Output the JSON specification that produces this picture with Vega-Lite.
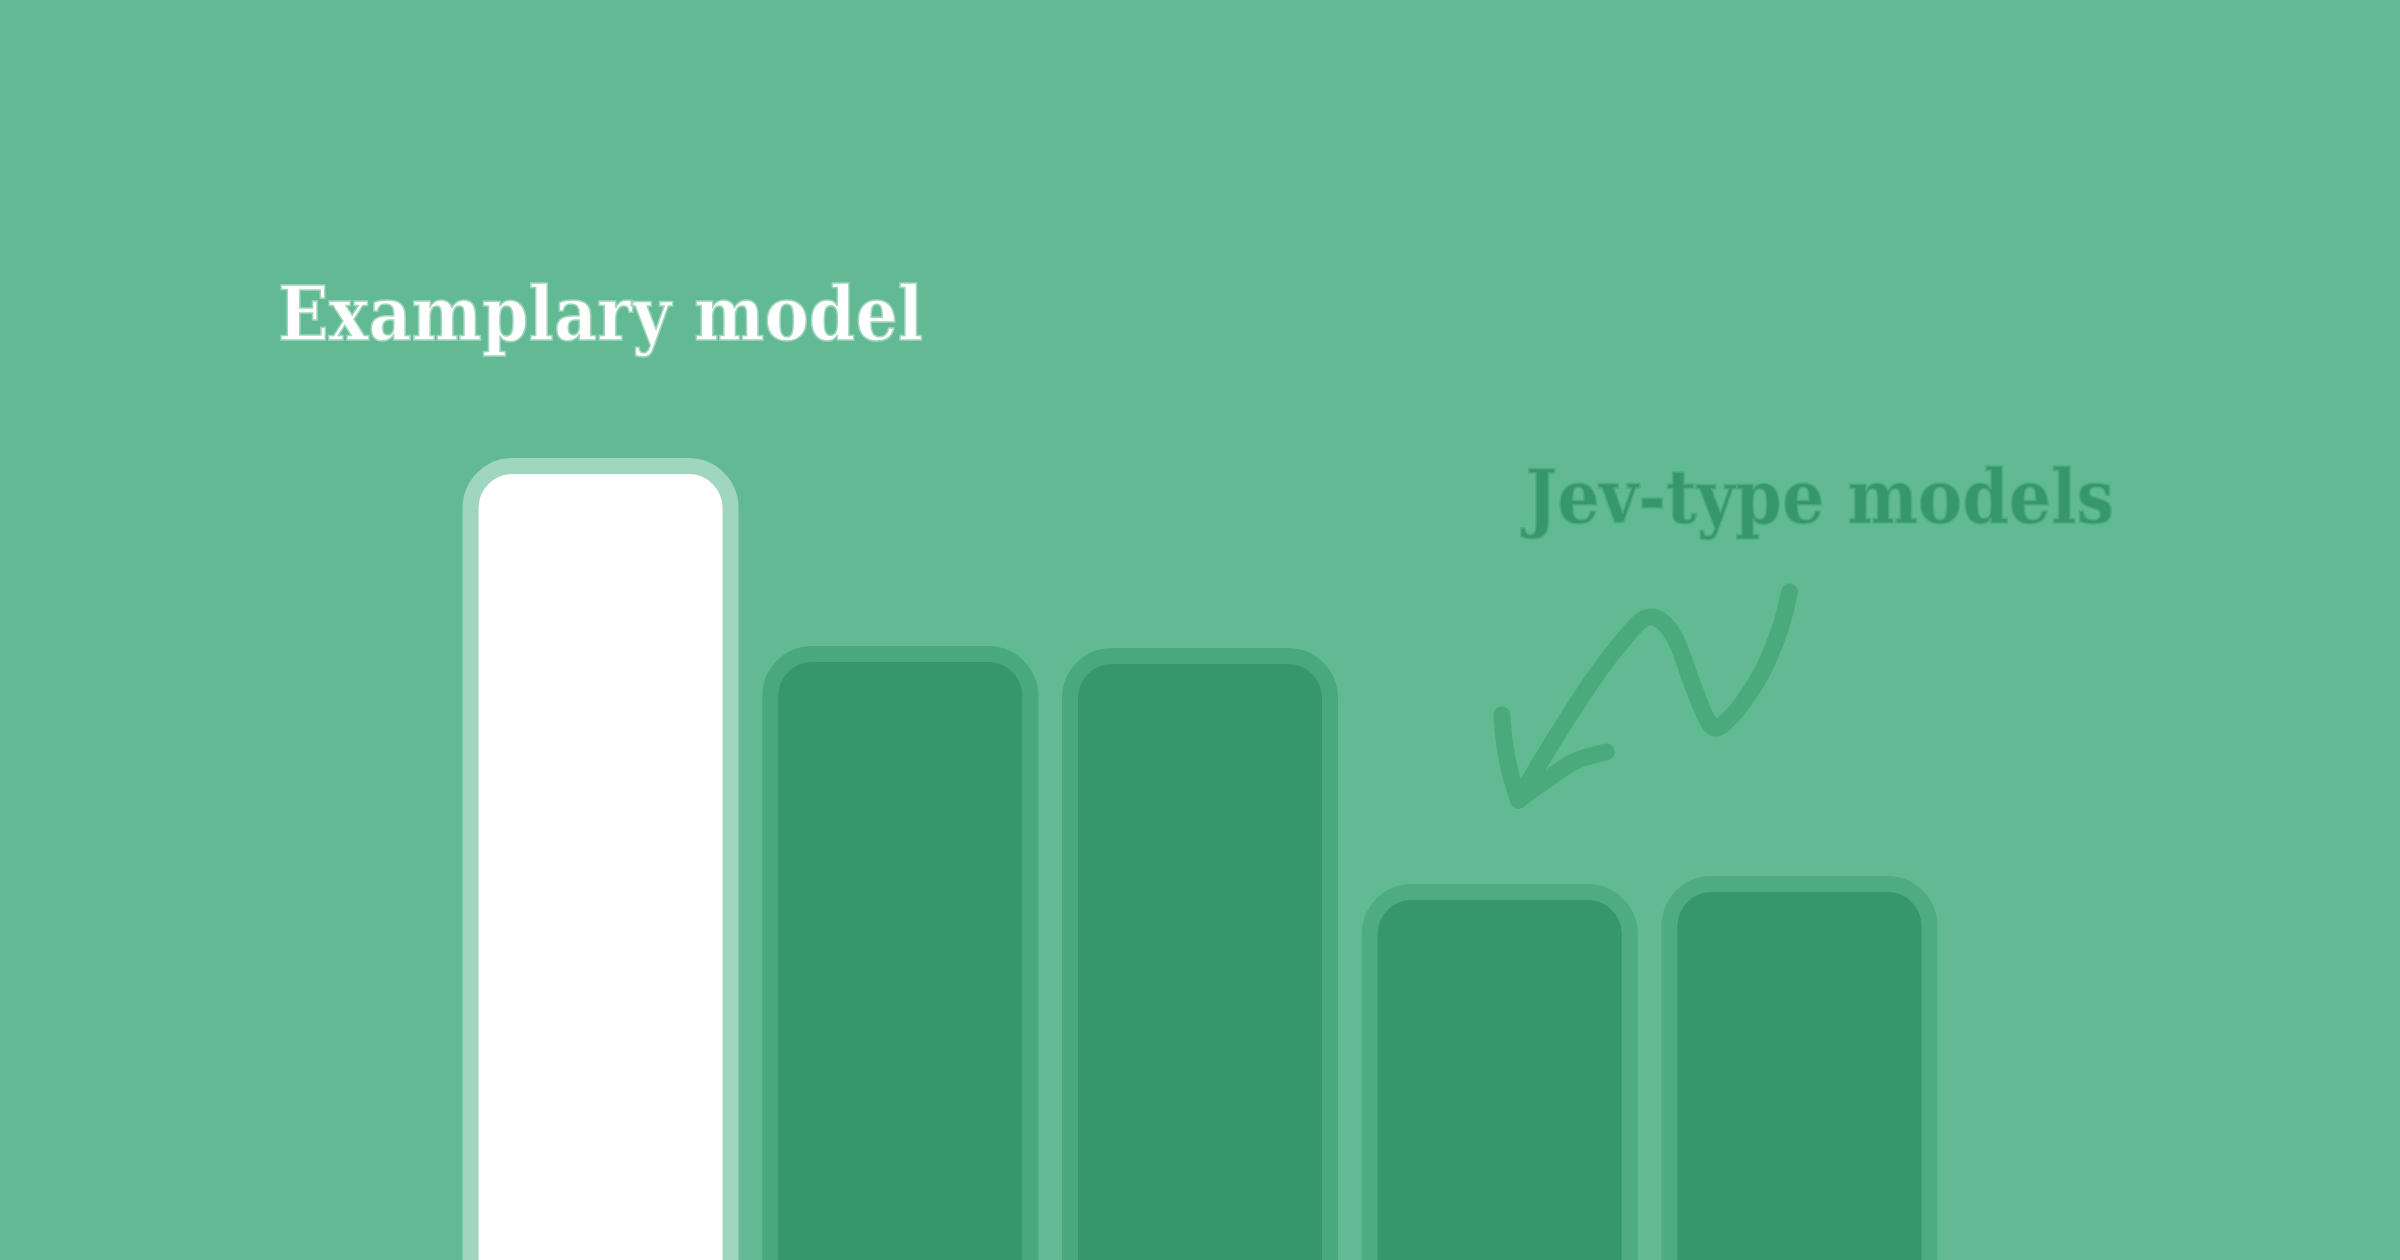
{
  "$schema": "https://vega.github.io/schema/vega-lite/v6.json",
  "width": 2400,
  "height": 1260,
  "autosize": {"type": "fit", "contains": "padding"},
  "padding": 0,
  "background": "#61ba91",
  "config": {"view": {"stroke": null}},
  "datasets": {
    "bars": [
      {"pos": 1, "model": "Examplary", "group": "exemplary", "score": 794},
      {"pos": 2, "model": "Model B", "group": "other", "score": 606},
      {"pos": 3, "model": "Model C", "group": "other", "score": 604},
      {"pos": 4, "model": "Jev 1", "group": "jev", "score": 368},
      {"pos": 5, "model": "Jev 2", "group": "jev", "score": 376}
    ],
    "labels": [
      {"label": "Examplary model", "pos": 1, "score": 920, "group": "exemplary"},
      {"label": "Jev-type models", "pos": 5.068, "score": 737, "group": "jev"}
    ],
    "arrow": [
      {"part": "main", "i": 1, "pos": 4.967, "score": 668},
      {"part": "main", "i": 2, "pos": 4.937, "score": 633},
      {"part": "main", "i": 3, "pos": 4.884, "score": 593},
      {"part": "main", "i": 4, "pos": 4.817, "score": 560},
      {"part": "main", "i": 5, "pos": 4.761, "score": 540},
      {"part": "main", "i": 6, "pos": 4.718, "score": 532},
      {"part": "main", "i": 7, "pos": 4.684, "score": 545},
      {"part": "main", "i": 8, "pos": 4.638, "score": 580},
      {"part": "main", "i": 9, "pos": 4.588, "score": 620},
      {"part": "main", "i": 10, "pos": 4.535, "score": 640},
      {"part": "main", "i": 11, "pos": 4.480, "score": 641},
      {"part": "main", "i": 12, "pos": 4.412, "score": 620},
      {"part": "main", "i": 13, "pos": 4.329, "score": 588},
      {"part": "main", "i": 14, "pos": 4.229, "score": 543},
      {"part": "main", "i": 15, "pos": 4.140, "score": 500},
      {"part": "main", "i": 16, "pos": 4.063, "score": 460},
      {"part": "barbL", "i": 1, "pos": 4.063, "score": 460},
      {"part": "barbL", "i": 2, "pos": 4.037, "score": 485},
      {"part": "barbL", "i": 3, "pos": 4.017, "score": 515},
      {"part": "barbL", "i": 4, "pos": 4.007, "score": 545},
      {"part": "barbR", "i": 1, "pos": 4.063, "score": 460},
      {"part": "barbR", "i": 2, "pos": 4.146, "score": 478},
      {"part": "barbR", "i": 3, "pos": 4.246, "score": 498},
      {"part": "barbR", "i": 4, "pos": 4.355, "score": 508}
    ]
  },
  "layer": [
    {
      "data": {"name": "bars"},
      "mark": {"type": "bar", "width": 260, "cornerRadiusTopLeft": 42, "cornerRadiusTopRight": 42, "strokeWidth": 16, "clip": true},
      "encoding": {
        "x": {"field": "pos", "type": "quantitative", "scale": {"domain": [-0.987, 6.987], "nice": false, "zero": false}, "axis": null},
        "y": {"field": "score", "type": "quantitative", "scale": {"domain": [0, 1260], "nice": false}, "axis": null},
        "y2": {"datum": -60},
        "fill": {"field": "group", "type": "nominal", "scale": {"domain": ["exemplary", "other", "jev"], "range": ["#ffffff", "#35976a", "#35976a"]}, "legend": null},
        "stroke": {"field": "group", "type": "nominal", "scale": {"domain": ["exemplary", "other", "jev"], "range": ["#a0d6bf", "#4aa97c", "#4fac80"]}, "legend": null}
      }
    },
    {
      "data": {"name": "arrow"},
      "mark": {"type": "line", "interpolate": "cardinal", "strokeWidth": 17, "strokeCap": "round", "strokeJoin": "round", "color": "#4baa7c"},
      "encoding": {
        "x": {"field": "pos", "type": "quantitative"},
        "y": {"field": "score", "type": "quantitative"},
        "detail": {"field": "part"},
        "order": {"field": "i", "type": "quantitative"}
      }
    },
    {
      "data": {"name": "labels"},
      "mark": {"type": "text", "font": "DejaVu Serif Condensed", "fontWeight": "bold", "fontSize": 74, "align": "center", "baseline": "alphabetic", "strokeWidth": 1.5},
      "encoding": {
        "x": {"field": "pos", "type": "quantitative"},
        "y": {"field": "score", "type": "quantitative"},
        "text": {"field": "label"},
        "fill": {"field": "group", "type": "nominal", "scale": {"domain": ["exemplary", "other", "jev"], "range": ["#ffffff", "#35976a", "#36986a"]}, "legend": null},
        "stroke": {"field": "group", "type": "nominal", "scale": {"domain": ["exemplary", "other", "jev"], "range": ["#a0d6bf", "#4aa97c", "#36986a"]}, "legend": null}
      }
    }
  ]
}
